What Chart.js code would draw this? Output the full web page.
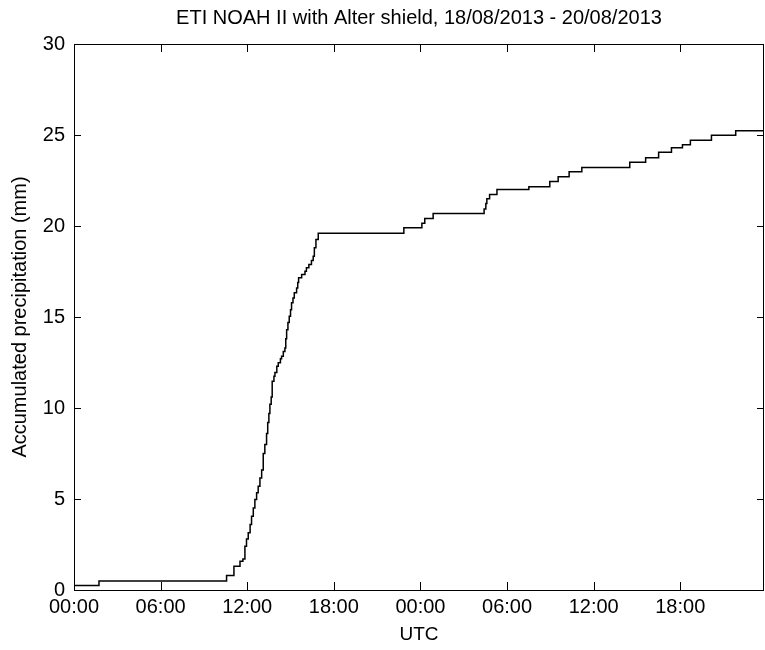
<!DOCTYPE html>
<html>
<head>
<meta charset="utf-8">
<script src="https://cdn.jsdelivr.net/npm/chart.js@4.4.1/dist/chart.umd.min.js"></script>
<style>
  html, body { margin: 0; padding: 0; background: #fff; }
  #wrap { width: 765px; height: 650px; }
</style>
</head>
<body>
<div id="wrap"><canvas id="precip"></canvas></div>
<script>
const precipCanvas = document.querySelector('#precip');

// hours since 18/08/2013 00:00 UTC, at which the accumulated value steps up
const stepHours = [0, 1.73, 10.57, 11.08, 11.5, 11.7, 11.84, 11.95, 12.07, 12.2, 12.3,
  12.42, 12.53, 12.65, 12.76, 12.88, 13.0, 13.11, 13.22, 13.34, 13.42,
  13.5, 13.57, 13.66, 13.73, 13.85, 13.92, 14.05, 14.15, 14.3, 14.38,
  14.5, 14.61, 14.67, 14.73, 14.82, 14.91, 15.0, 15.07, 15.17, 15.26,
  15.42, 15.5, 15.56, 15.77, 16.0, 16.1, 16.27, 16.45, 16.57, 16.65,
  16.76, 16.92, 22.85, 24.1, 24.3, 24.88, 28.41, 28.53, 28.6, 28.79, 29.3,
  31.51, 32.96, 33.54, 34.3, 35.18, 38.5, 39.6, 40.5, 41.39, 42.15,
  42.7, 44.16, 45.84, 47.8];

// accumulated precipitation (mm)
const accumMm = [0.25, 0.5, 0.8, 1.3, 1.58, 1.7, 2.4, 2.8, 3.15, 3.6, 4.05,
  4.5, 4.97, 5.35, 5.7, 6.15, 6.6, 7.5, 8.0, 8.6, 9.2,
  9.7, 10.2, 10.6, 11.47, 11.75, 11.95, 12.3, 12.48, 12.7, 12.85,
  13.1, 13.3, 13.8, 14.3, 14.7, 15.04, 15.4, 15.78, 16.05, 16.33,
  16.6, 16.9, 17.15, 17.33, 17.52, 17.7, 17.88, 18.1, 18.34, 18.8,
  19.26, 19.6, 19.9, 20.15, 20.41, 20.69, 20.94, 21.24, 21.5, 21.73, 22.0,
  22.15, 22.45, 22.7, 22.98, 23.21, 23.5, 23.75, 24.05, 24.3, 24.46,
  24.71, 24.99, 25.23, 25.23];

const xTickHours = [0, 6, 12, 18, 24, 30, 36, 42];
const xTickLabels = ['00:00', '06:00', '12:00', '18:00', '00:00', '06:00', '12:00', '18:00'];
const yTickValues = [0, 5, 10, 15, 20, 25, 30];

const points = stepHours.map((h, i) => ({ x: h, y: accumMm[i] }));

const FONT = "'Liberation Sans', Arial, Helvetica, sans-serif";

// matlab style box with inward tick marks
const boxTicks = {
  id: 'boxTicks',
  afterDraw(chart) {
    const { ctx, chartArea: a, scales } = chart;
    ctx.save();
    ctx.strokeStyle = '#000';
    ctx.lineWidth = 1;
    ctx.strokeRect(Math.round(a.left) + 0.5, Math.round(a.top) + 0.5,
      Math.round(a.right - a.left) - 1, Math.round(a.bottom - a.top));
    ctx.beginPath();
    xTickHours.forEach(v => {
      const px = Math.round(scales.x.getPixelForValue(v)) + 0.5;
      ctx.moveTo(px, a.bottom); ctx.lineTo(px, a.bottom - 8);
      ctx.moveTo(px, a.top); ctx.lineTo(px, a.top + 8);
    });
    yTickValues.forEach(v => {
      const py = Math.round(scales.y.getPixelForValue(v)) + 0.5;
      ctx.moveTo(a.left, py); ctx.lineTo(a.left + 7, py);
      ctx.moveTo(a.right, py); ctx.lineTo(a.right - 7, py);
    });
    ctx.stroke();
    ctx.restore();
  }
};

const precipChart = new Chart(precipCanvas, {
  type: 'scatter',
  data: {
    datasets: [{
      label: 'Accumulated precipitation',
      data: points,
      showLine: true,
      stepped: 'before',
      borderColor: '#000',
      borderWidth: 1.5,
      pointRadius: 0,
      fill: false
    }]
  },
  options: {
    responsive: true,
    maintainAspectRatio: false,
    animation: false,
    layout: { padding: { left: 0, right: 1, top: 0, bottom: 0 } },
    plugins: {
      legend: { display: false },
      tooltip: { enabled: false },
      title: {
        display: true,
        fullSize: false,
        text: 'ETI NOAH II with Alter shield, 18/08/2013 - 20/08/2013',
        color: '#000',
        font: { family: FONT, size: 20, weight: 'normal' },
        padding: { top: 6, bottom: 14 }
      }
    },
    scales: {
      x: {
        type: 'linear',
        min: 0,
        max: 47.8,
        grid: { display: false, drawTicks: false },
        border: { display: false },
        afterBuildTicks: s => { s.ticks = xTickHours.map(v => ({ value: v })); },
        afterFit: s => { s.height = 60; },
        ticks: {
          padding: 5,
          color: '#000',
          maxRotation: 0,
          font: { family: FONT, size: 20 },
          callback: v => xTickLabels[xTickHours.indexOf(v)]
        },
        title: {
          display: true,
          text: 'UTC',
          color: '#000',
          font: { family: FONT, size: 19 },
          padding: { top: 0, bottom: 4 }
        }
      },
      y: {
        min: 0,
        max: 30,
        grid: { display: false, drawTicks: false },
        border: { display: false },
        afterBuildTicks: s => { s.ticks = yTickValues.map(v => ({ value: v })); },
        afterFit: s => { s.width = 74; },
        ticks: {
          padding: 9,
          color: '#000',
          font: { family: FONT, size: 20 }
        },
        title: {
          display: true,
          text: 'Accumulated precipitation (mm)',
          color: '#000',
          font: { family: FONT, size: 20 },
          padding: { top: 8, bottom: 0 }
        }
      }
    }
  },
  plugins: [boxTicks]
});
</script>
</body>
</html>
